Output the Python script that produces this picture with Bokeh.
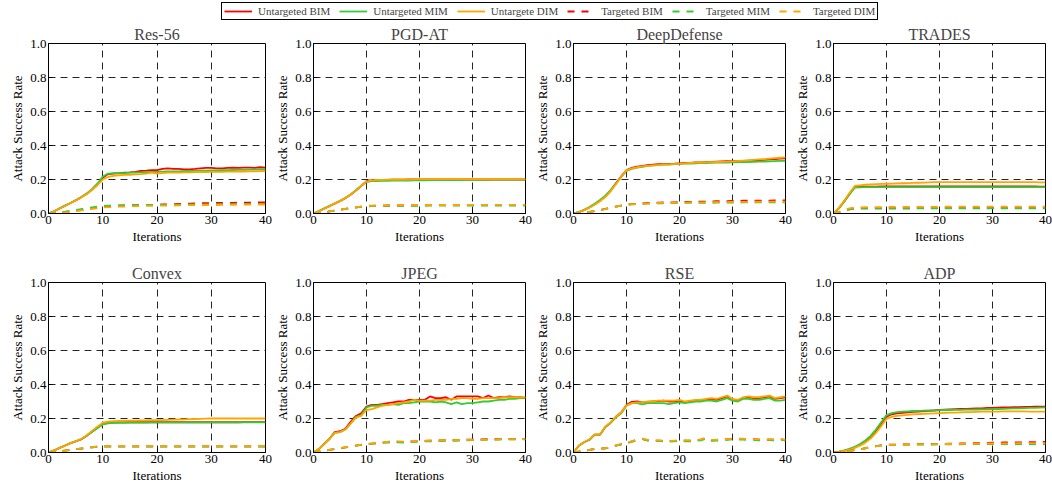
from bokeh.plotting import figure
from bokeh.layouts import column, row
from bokeh.models import Range1d, Legend, LegendItem, PrintfTickFormatter
from bokeh.embed import file_html
from bokeh.resources import INLINE

ITER = list(range(41))
X_TICKS = [0, 10, 20, 30, 40]
Y_TICKS = [0.0, 0.2, 0.4, 0.6, 0.8, 1.0]
SERIES_LABELS = ["Untargeted BIM", "Untargeted MIM", "Untargete DIM",
                 "Targeted BIM", "Targeted MIM", "Targeted DIM"]
PANELS = ["Res-56", "PGD-AT", "DeepDefense", "TRADES",
          "Convex", "JPEG", "RSE", "ADP"]

# ---------------- Res-56 ----------------
RES56_U_BIM = [0, 0.012, 0.028, 0.045, 0.06, 0.077, 0.095, 0.115, 0.14, 0.17, 0.21, 0.232, 0.235, 0.237, 0.24, 0.242, 0.245, 0.25, 0.252, 0.255, 0.255, 0.262, 0.265, 0.263, 0.262, 0.26, 0.26, 0.262, 0.265, 0.268, 0.268, 0.266, 0.265, 0.268, 0.27, 0.268, 0.27, 0.27, 0.268, 0.272, 0.27]
RES56_U_MIM = [0, 0.013, 0.03, 0.047, 0.062, 0.078, 0.096, 0.117, 0.143, 0.175, 0.218, 0.235, 0.237, 0.238, 0.238, 0.24, 0.24, 0.242, 0.243, 0.244, 0.245, 0.246, 0.247, 0.248, 0.248, 0.25, 0.25, 0.251, 0.252, 0.252, 0.253, 0.254, 0.255, 0.255, 0.256, 0.257, 0.257, 0.258, 0.258, 0.259, 0.26]
RES56_U_DIM = [0, 0.012, 0.028, 0.044, 0.06, 0.076, 0.094, 0.113, 0.138, 0.165, 0.2, 0.215, 0.222, 0.225, 0.227, 0.228, 0.23, 0.232, 0.235, 0.24, 0.235, 0.238, 0.24, 0.24, 0.24, 0.242, 0.242, 0.243, 0.244, 0.244, 0.245, 0.245, 0.245, 0.246, 0.246, 0.247, 0.247, 0.248, 0.248, 0.249, 0.25]
RES56_T_BIM = [0, 0.002, 0.005, 0.008, 0.012, 0.016, 0.02, 0.025, 0.03, 0.035, 0.04, 0.043, 0.045, 0.046, 0.047, 0.048, 0.049, 0.05, 0.05, 0.051, 0.052, 0.053, 0.054, 0.055, 0.056, 0.057, 0.058, 0.059, 0.06, 0.061, 0.062, 0.062, 0.063, 0.063, 0.063, 0.064, 0.064, 0.064, 0.065, 0.065, 0.065]
RES56_T_MIM = [0, 0.003, 0.007, 0.011, 0.016, 0.021, 0.026, 0.031, 0.036, 0.041, 0.045, 0.046, 0.047, 0.048, 0.048, 0.049, 0.049, 0.05, 0.05, 0.05, 0.05, 0.051, 0.051, 0.052, 0.052, 0.052, 0.053, 0.053, 0.053, 0.054, 0.054, 0.054, 0.055, 0.055, 0.055, 0.055, 0.056, 0.056, 0.056, 0.056, 0.056]
RES56_T_DIM = [0, 0.002, 0.004, 0.007, 0.01, 0.014, 0.018, 0.022, 0.027, 0.031, 0.035, 0.037, 0.039, 0.04, 0.041, 0.042, 0.043, 0.044, 0.045, 0.045, 0.046, 0.046, 0.047, 0.047, 0.048, 0.048, 0.049, 0.049, 0.05, 0.05, 0.05, 0.05, 0.051, 0.051, 0.051, 0.052, 0.052, 0.052, 0.052, 0.053, 0.053]

# ---------------- PGD-AT ----------------
PGDAT_U_BIM = [0, 0.013, 0.028, 0.043, 0.058, 0.073, 0.09, 0.11, 0.135, 0.162, 0.19, 0.197, 0.198, 0.198, 0.198, 0.199, 0.199, 0.199, 0.2, 0.2, 0.2, 0.2, 0.2, 0.2, 0.2, 0.2, 0.2, 0.2, 0.2, 0.2, 0.2, 0.2, 0.2, 0.2, 0.2, 0.2, 0.2, 0.2, 0.2, 0.2, 0.2]
PGDAT_U_MIM = [0, 0.014, 0.03, 0.045, 0.06, 0.075, 0.092, 0.112, 0.137, 0.163, 0.185, 0.19, 0.191, 0.192, 0.192, 0.193, 0.193, 0.194, 0.194, 0.195, 0.195, 0.195, 0.196, 0.196, 0.196, 0.197, 0.197, 0.197, 0.197, 0.198, 0.198, 0.198, 0.198, 0.198, 0.199, 0.199, 0.199, 0.199, 0.199, 0.2, 0.2]
PGDAT_U_DIM = [0, 0.013, 0.028, 0.043, 0.058, 0.074, 0.091, 0.111, 0.136, 0.163, 0.188, 0.195, 0.197, 0.198, 0.199, 0.2, 0.2, 0.2, 0.201, 0.201, 0.202, 0.202, 0.202, 0.202, 0.202, 0.202, 0.202, 0.202, 0.202, 0.202, 0.202, 0.202, 0.202, 0.202, 0.202, 0.202, 0.202, 0.202, 0.202, 0.202, 0.202]
PGDAT_T_BIM = [0, 0.003, 0.007, 0.012, 0.017, 0.022, 0.027, 0.032, 0.036, 0.04, 0.044, 0.045, 0.046, 0.046, 0.047, 0.047, 0.047, 0.048, 0.048, 0.048, 0.048, 0.049, 0.049, 0.049, 0.049, 0.049, 0.05, 0.05, 0.05, 0.05, 0.05, 0.05, 0.05, 0.05, 0.05, 0.05, 0.05, 0.05, 0.05, 0.05, 0.05]
PGDAT_T_MIM = [0, 0.003, 0.007, 0.012, 0.017, 0.022, 0.027, 0.031, 0.035, 0.039, 0.042, 0.043, 0.044, 0.044, 0.044, 0.045, 0.045, 0.045, 0.045, 0.045, 0.045, 0.045, 0.046, 0.046, 0.046, 0.046, 0.046, 0.046, 0.046, 0.046, 0.046, 0.046, 0.046, 0.046, 0.046, 0.046, 0.046, 0.046, 0.046, 0.046, 0.046]
PGDAT_T_DIM = [0, 0.003, 0.007, 0.012, 0.017, 0.022, 0.027, 0.032, 0.037, 0.041, 0.045, 0.046, 0.047, 0.047, 0.048, 0.048, 0.048, 0.049, 0.049, 0.049, 0.049, 0.05, 0.05, 0.05, 0.05, 0.05, 0.05, 0.05, 0.05, 0.05, 0.051, 0.051, 0.051, 0.051, 0.051, 0.051, 0.051, 0.051, 0.051, 0.051, 0.051]

# ---------------- DeepDefense ----------------
DD_U_BIM = [0, 0.008, 0.02, 0.035, 0.054, 0.075, 0.1, 0.135, 0.178, 0.218, 0.255, 0.268, 0.275, 0.28, 0.285, 0.288, 0.29, 0.291, 0.292, 0.293, 0.295, 0.297, 0.298, 0.3, 0.301, 0.302, 0.303, 0.305, 0.307, 0.308, 0.308, 0.309, 0.31, 0.311, 0.312, 0.313, 0.315, 0.318, 0.32, 0.323, 0.325]
DD_U_MIM = [0, 0.009, 0.022, 0.038, 0.058, 0.08, 0.105, 0.138, 0.175, 0.215, 0.25, 0.262, 0.27, 0.275, 0.28, 0.283, 0.285, 0.287, 0.288, 0.29, 0.292, 0.293, 0.294, 0.295, 0.296, 0.297, 0.298, 0.299, 0.3, 0.3, 0.301, 0.302, 0.302, 0.303, 0.304, 0.305, 0.306, 0.307, 0.308, 0.309, 0.31]
DD_U_DIM = [0, 0.008, 0.02, 0.034, 0.052, 0.072, 0.097, 0.13, 0.172, 0.215, 0.255, 0.265, 0.272, 0.277, 0.28, 0.283, 0.285, 0.287, 0.289, 0.291, 0.293, 0.295, 0.297, 0.299, 0.3, 0.301, 0.302, 0.303, 0.304, 0.305, 0.307, 0.309, 0.311, 0.313, 0.315, 0.318, 0.32, 0.323, 0.326, 0.328, 0.33]
DD_T_BIM = [0, 0.002, 0.005, 0.009, 0.014, 0.02, 0.027, 0.034, 0.041, 0.047, 0.052, 0.055, 0.058, 0.06, 0.062, 0.063, 0.064, 0.065, 0.066, 0.066, 0.067, 0.068, 0.068, 0.069, 0.07, 0.07, 0.071, 0.072, 0.072, 0.073, 0.074, 0.074, 0.075, 0.075, 0.075, 0.076, 0.076, 0.076, 0.077, 0.077, 0.077]
DD_T_MIM = [0, 0.002, 0.005, 0.009, 0.014, 0.02, 0.027, 0.034, 0.041, 0.047, 0.052, 0.054, 0.056, 0.057, 0.058, 0.059, 0.06, 0.06, 0.061, 0.061, 0.062, 0.062, 0.062, 0.063, 0.063, 0.063, 0.063, 0.064, 0.064, 0.064, 0.064, 0.064, 0.065, 0.065, 0.065, 0.065, 0.065, 0.065, 0.065, 0.065, 0.065]
DD_T_DIM = [0, 0.002, 0.005, 0.009, 0.014, 0.02, 0.026, 0.033, 0.04, 0.046, 0.051, 0.054, 0.056, 0.058, 0.06, 0.061, 0.062, 0.062, 0.063, 0.063, 0.064, 0.064, 0.065, 0.065, 0.066, 0.066, 0.066, 0.067, 0.067, 0.067, 0.068, 0.068, 0.068, 0.069, 0.069, 0.069, 0.07, 0.07, 0.07, 0.07, 0.07]

# ---------------- TRADES ----------------
TR_U_BIM = [0, 0.03, 0.07, 0.113, 0.155, 0.157, 0.158, 0.158, 0.158, 0.159, 0.159, 0.159, 0.16, 0.16, 0.16, 0.16, 0.16, 0.16, 0.16, 0.16, 0.16, 0.16, 0.16, 0.16, 0.16, 0.16, 0.16, 0.16, 0.16, 0.16, 0.16, 0.16, 0.16, 0.16, 0.16, 0.16, 0.159, 0.159, 0.159, 0.158, 0.158]
TR_U_MIM = [0, 0.03, 0.07, 0.112, 0.152, 0.154, 0.155, 0.155, 0.155, 0.155, 0.155, 0.155, 0.155, 0.155, 0.155, 0.155, 0.155, 0.155, 0.155, 0.155, 0.155, 0.155, 0.155, 0.155, 0.155, 0.155, 0.155, 0.155, 0.155, 0.155, 0.155, 0.155, 0.155, 0.155, 0.155, 0.155, 0.155, 0.155, 0.155, 0.155, 0.155]
TR_U_DIM = [0, 0.032, 0.075, 0.12, 0.162, 0.166, 0.169, 0.171, 0.173, 0.174, 0.175, 0.176, 0.177, 0.178, 0.179, 0.18, 0.181, 0.182, 0.183, 0.184, 0.185, 0.185, 0.185, 0.185, 0.185, 0.185, 0.185, 0.185, 0.185, 0.185, 0.185, 0.185, 0.185, 0.185, 0.185, 0.185, 0.185, 0.184, 0.184, 0.183, 0.183]
TR_T_BIM = [0, 0.008, 0.017, 0.025, 0.03, 0.031, 0.031, 0.031, 0.031, 0.031, 0.031, 0.031, 0.031, 0.031, 0.031, 0.031, 0.032, 0.032, 0.032, 0.032, 0.032, 0.032, 0.032, 0.032, 0.032, 0.032, 0.032, 0.032, 0.032, 0.032, 0.032, 0.032, 0.032, 0.032, 0.032, 0.032, 0.032, 0.032, 0.032, 0.032, 0.032]
TR_T_MIM = [0, 0.008, 0.016, 0.024, 0.029, 0.03, 0.03, 0.03, 0.03, 0.03, 0.03, 0.03, 0.03, 0.03, 0.03, 0.03, 0.03, 0.03, 0.03, 0.03, 0.03, 0.03, 0.03, 0.03, 0.03, 0.03, 0.03, 0.03, 0.03, 0.03, 0.03, 0.03, 0.03, 0.03, 0.03, 0.03, 0.03, 0.03, 0.03, 0.03, 0.03]
TR_T_DIM = [0, 0.01, 0.02, 0.03, 0.035, 0.036, 0.037, 0.038, 0.038, 0.038, 0.039, 0.039, 0.039, 0.039, 0.039, 0.039, 0.039, 0.039, 0.039, 0.039, 0.04, 0.04, 0.04, 0.04, 0.04, 0.04, 0.04, 0.04, 0.04, 0.04, 0.04, 0.04, 0.04, 0.04, 0.04, 0.04, 0.04, 0.04, 0.04, 0.04, 0.04]

# ---------------- Convex ----------------
CV_U_BIM = [0, 0.012, 0.026, 0.04, 0.054, 0.065, 0.077, 0.097, 0.122, 0.145, 0.168, 0.175, 0.176, 0.177, 0.177, 0.178, 0.178, 0.178, 0.178, 0.178, 0.178, 0.178, 0.178, 0.178, 0.178, 0.178, 0.178, 0.178, 0.178, 0.178, 0.178, 0.178, 0.178, 0.178, 0.178, 0.178, 0.179, 0.179, 0.179, 0.179, 0.179]
CV_U_MIM = [0, 0.012, 0.027, 0.041, 0.055, 0.066, 0.078, 0.098, 0.12, 0.142, 0.165, 0.172, 0.174, 0.175, 0.175, 0.176, 0.176, 0.176, 0.176, 0.177, 0.177, 0.177, 0.177, 0.177, 0.177, 0.177, 0.177, 0.177, 0.177, 0.177, 0.177, 0.177, 0.177, 0.177, 0.177, 0.177, 0.177, 0.177, 0.177, 0.177, 0.177]
CV_U_DIM = [0, 0.012, 0.026, 0.04, 0.054, 0.066, 0.08, 0.1, 0.127, 0.152, 0.175, 0.182, 0.185, 0.186, 0.187, 0.188, 0.188, 0.189, 0.189, 0.19, 0.19, 0.191, 0.192, 0.193, 0.194, 0.195, 0.196, 0.197, 0.198, 0.199, 0.2, 0.2, 0.2, 0.2, 0.2, 0.2, 0.2, 0.2, 0.2, 0.2, 0.2]
CV_T_BIM = [0, 0.003, 0.007, 0.011, 0.015, 0.019, 0.023, 0.027, 0.031, 0.034, 0.036, 0.036, 0.036, 0.036, 0.036, 0.036, 0.036, 0.036, 0.036, 0.036, 0.036, 0.036, 0.036, 0.036, 0.036, 0.036, 0.036, 0.036, 0.036, 0.036, 0.036, 0.036, 0.036, 0.036, 0.036, 0.036, 0.036, 0.036, 0.036, 0.036, 0.036]
CV_T_MIM = [0, 0.003, 0.007, 0.011, 0.015, 0.019, 0.023, 0.027, 0.031, 0.034, 0.035, 0.035, 0.035, 0.035, 0.035, 0.035, 0.035, 0.035, 0.035, 0.035, 0.035, 0.035, 0.035, 0.035, 0.035, 0.035, 0.035, 0.035, 0.035, 0.035, 0.035, 0.035, 0.035, 0.035, 0.035, 0.035, 0.035, 0.035, 0.035, 0.035, 0.035]
CV_T_DIM = [0, 0.003, 0.007, 0.011, 0.015, 0.02, 0.024, 0.028, 0.032, 0.035, 0.037, 0.038, 0.038, 0.038, 0.038, 0.038, 0.038, 0.038, 0.038, 0.038, 0.038, 0.038, 0.038, 0.038, 0.038, 0.038, 0.038, 0.038, 0.038, 0.038, 0.038, 0.038, 0.038, 0.038, 0.038, 0.038, 0.038, 0.038, 0.038, 0.038, 0.038]

# ---------------- JPEG ----------------
JP_U_BIM = [0, 0.02, 0.05, 0.08, 0.12, 0.125, 0.14, 0.18, 0.215, 0.23, 0.27, 0.28, 0.28, 0.285, 0.29, 0.295, 0.3, 0.3, 0.31, 0.31, 0.31, 0.31, 0.33, 0.32, 0.32, 0.325, 0.31, 0.33, 0.33, 0.33, 0.33, 0.33, 0.32, 0.335, 0.32, 0.325, 0.325, 0.33, 0.325, 0.325, 0.32]
JP_U_MIM = [0, 0.02, 0.05, 0.08, 0.115, 0.12, 0.135, 0.17, 0.21, 0.22, 0.265, 0.275, 0.275, 0.28, 0.28, 0.285, 0.28, 0.29, 0.29, 0.295, 0.3, 0.3, 0.3, 0.295, 0.3, 0.295, 0.285, 0.295, 0.285, 0.29, 0.29, 0.295, 0.3, 0.3, 0.305, 0.31, 0.31, 0.315, 0.315, 0.32, 0.32]
JP_U_DIM = [0, 0.02, 0.048, 0.078, 0.115, 0.12, 0.135, 0.17, 0.205, 0.215, 0.25, 0.255, 0.265, 0.275, 0.28, 0.285, 0.29, 0.295, 0.3, 0.31, 0.305, 0.305, 0.305, 0.31, 0.31, 0.31, 0.315, 0.315, 0.32, 0.32, 0.315, 0.315, 0.32, 0.32, 0.32, 0.32, 0.325, 0.325, 0.325, 0.325, 0.325]
JP_T_BIM = [0, 0.005, 0.01, 0.015, 0.02, 0.025, 0.03, 0.034, 0.04, 0.045, 0.05, 0.052, 0.055, 0.058, 0.062, 0.065, 0.063, 0.062, 0.064, 0.066, 0.068, 0.068, 0.07, 0.07, 0.071, 0.072, 0.072, 0.073, 0.074, 0.075, 0.075, 0.076, 0.077, 0.078, 0.078, 0.078, 0.079, 0.079, 0.08, 0.08, 0.08]
JP_T_MIM = [0, 0.005, 0.01, 0.015, 0.02, 0.025, 0.03, 0.035, 0.04, 0.045, 0.05, 0.052, 0.054, 0.056, 0.058, 0.06, 0.06, 0.058, 0.06, 0.062, 0.064, 0.065, 0.066, 0.066, 0.067, 0.068, 0.068, 0.069, 0.07, 0.072, 0.073, 0.074, 0.075, 0.076, 0.076, 0.077, 0.077, 0.078, 0.078, 0.078, 0.078]
JP_T_DIM = [0, 0.005, 0.01, 0.016, 0.021, 0.026, 0.031, 0.036, 0.041, 0.046, 0.051, 0.054, 0.057, 0.06, 0.063, 0.066, 0.065, 0.064, 0.065, 0.067, 0.068, 0.069, 0.07, 0.07, 0.071, 0.072, 0.072, 0.073, 0.074, 0.074, 0.075, 0.075, 0.076, 0.076, 0.076, 0.077, 0.077, 0.077, 0.078, 0.078, 0.079]

# ---------------- RSE ----------------
RSE_U_BIM = [0, 0.04, 0.06, 0.075, 0.105, 0.105, 0.15, 0.175, 0.21, 0.235, 0.28, 0.298, 0.3, 0.295, 0.298, 0.3, 0.302, 0.305, 0.3, 0.3, 0.305, 0.295, 0.3, 0.305, 0.305, 0.31, 0.315, 0.31, 0.32, 0.33, 0.31, 0.305, 0.32, 0.325, 0.32, 0.32, 0.325, 0.33, 0.315, 0.32, 0.325]
RSE_U_MIM = [0, 0.04, 0.06, 0.075, 0.105, 0.105, 0.15, 0.175, 0.205, 0.23, 0.275, 0.29, 0.29, 0.283, 0.29, 0.292, 0.29, 0.29, 0.285, 0.29, 0.295, 0.29, 0.295, 0.3, 0.3, 0.305, 0.305, 0.3, 0.31, 0.32, 0.305, 0.3, 0.315, 0.315, 0.31, 0.31, 0.315, 0.32, 0.305, 0.305, 0.31]
RSE_U_DIM = [0, 0.04, 0.062, 0.078, 0.105, 0.108, 0.152, 0.178, 0.21, 0.235, 0.278, 0.29, 0.295, 0.295, 0.3, 0.3, 0.305, 0.305, 0.305, 0.305, 0.31, 0.3, 0.305, 0.31, 0.31, 0.315, 0.32, 0.315, 0.325, 0.335, 0.315, 0.31, 0.325, 0.33, 0.325, 0.325, 0.33, 0.335, 0.32, 0.325, 0.33]
RSE_T_BIM = [0, 0.005, 0.01, 0.015, 0.02, 0.022, 0.025, 0.03, 0.04, 0.048, 0.055, 0.065, 0.075, 0.08, 0.072, 0.07, 0.07, 0.068, 0.066, 0.068, 0.07, 0.07, 0.07, 0.072, 0.075, 0.085, 0.072, 0.074, 0.076, 0.078, 0.08, 0.08, 0.08, 0.078, 0.078, 0.075, 0.075, 0.076, 0.075, 0.08, 0.072]
RSE_T_MIM = [0, 0.005, 0.01, 0.015, 0.02, 0.022, 0.025, 0.03, 0.04, 0.048, 0.055, 0.063, 0.072, 0.078, 0.07, 0.068, 0.068, 0.066, 0.064, 0.066, 0.068, 0.066, 0.065, 0.068, 0.072, 0.08, 0.068, 0.07, 0.072, 0.075, 0.078, 0.076, 0.076, 0.074, 0.074, 0.072, 0.072, 0.073, 0.072, 0.077, 0.07]
RSE_T_DIM = [0, 0.005, 0.01, 0.015, 0.02, 0.023, 0.026, 0.032, 0.042, 0.05, 0.057, 0.066, 0.076, 0.082, 0.074, 0.072, 0.071, 0.069, 0.068, 0.07, 0.072, 0.071, 0.071, 0.073, 0.077, 0.087, 0.074, 0.075, 0.077, 0.079, 0.081, 0.081, 0.081, 0.079, 0.079, 0.077, 0.077, 0.078, 0.077, 0.081, 0.074]

# ---------------- ADP ----------------
ADP_U_BIM = [0, 0.004, 0.01, 0.018, 0.03, 0.045, 0.065, 0.09, 0.125, 0.165, 0.21, 0.225, 0.23, 0.233, 0.236, 0.239, 0.241, 0.243, 0.245, 0.247, 0.25, 0.252, 0.254, 0.255, 0.256, 0.257, 0.258, 0.259, 0.26, 0.262, 0.263, 0.264, 0.265, 0.266, 0.267, 0.267, 0.268, 0.268, 0.269, 0.27, 0.27]
ADP_U_MIM = [0, 0.005, 0.012, 0.021, 0.034, 0.05, 0.071, 0.098, 0.135, 0.178, 0.22, 0.232, 0.237, 0.24, 0.242, 0.244, 0.245, 0.246, 0.247, 0.248, 0.249, 0.25, 0.25, 0.251, 0.251, 0.252, 0.252, 0.253, 0.254, 0.254, 0.255, 0.256, 0.257, 0.258, 0.259, 0.26, 0.261, 0.262, 0.263, 0.264, 0.265]
ADP_U_DIM = [0, 0.004, 0.009, 0.016, 0.027, 0.04, 0.058, 0.082, 0.115, 0.155, 0.198, 0.21, 0.215, 0.218, 0.221, 0.224, 0.226, 0.228, 0.229, 0.23, 0.232, 0.233, 0.234, 0.235, 0.236, 0.237, 0.238, 0.239, 0.24, 0.24, 0.241, 0.241, 0.242, 0.242, 0.242, 0.242, 0.242, 0.241, 0.241, 0.24, 0.24]
ADP_T_BIM = [0, 0.002, 0.005, 0.009, 0.014, 0.019, 0.025, 0.031, 0.037, 0.042, 0.045, 0.046, 0.047, 0.047, 0.048, 0.048, 0.049, 0.049, 0.05, 0.05, 0.05, 0.051, 0.052, 0.052, 0.053, 0.054, 0.054, 0.055, 0.056, 0.057, 0.058, 0.058, 0.059, 0.059, 0.06, 0.06, 0.06, 0.061, 0.061, 0.062, 0.062]
ADP_T_MIM = [0, 0.002, 0.005, 0.009, 0.014, 0.019, 0.025, 0.031, 0.037, 0.042, 0.044, 0.045, 0.045, 0.046, 0.046, 0.046, 0.047, 0.047, 0.047, 0.047, 0.048, 0.048, 0.048, 0.048, 0.048, 0.049, 0.049, 0.049, 0.049, 0.049, 0.05, 0.05, 0.05, 0.05, 0.05, 0.05, 0.05, 0.05, 0.05, 0.05, 0.05]
ADP_T_DIM = [0, 0.002, 0.005, 0.009, 0.014, 0.019, 0.025, 0.031, 0.036, 0.041, 0.044, 0.045, 0.046, 0.046, 0.047, 0.047, 0.048, 0.048, 0.048, 0.049, 0.049, 0.05, 0.05, 0.05, 0.051, 0.051, 0.052, 0.052, 0.052, 0.053, 0.053, 0.053, 0.054, 0.054, 0.054, 0.055, 0.055, 0.055, 0.055, 0.055, 0.055]

PANEL_DATA = [
    [RES56_U_BIM, RES56_U_MIM, RES56_U_DIM, RES56_T_BIM, RES56_T_MIM, RES56_T_DIM],
    [PGDAT_U_BIM, PGDAT_U_MIM, PGDAT_U_DIM, PGDAT_T_BIM, PGDAT_T_MIM, PGDAT_T_DIM],
    [DD_U_BIM, DD_U_MIM, DD_U_DIM, DD_T_BIM, DD_T_MIM, DD_T_DIM],
    [TR_U_BIM, TR_U_MIM, TR_U_DIM, TR_T_BIM, TR_T_MIM, TR_T_DIM],
    [CV_U_BIM, CV_U_MIM, CV_U_DIM, CV_T_BIM, CV_T_MIM, CV_T_DIM],
    [JP_U_BIM, JP_U_MIM, JP_U_DIM, JP_T_BIM, JP_T_MIM, JP_T_DIM],
    [RSE_U_BIM, RSE_U_MIM, RSE_U_DIM, RSE_T_BIM, RSE_T_MIM, RSE_T_DIM],
    [ADP_U_BIM, ADP_U_MIM, ADP_U_DIM, ADP_T_BIM, ADP_T_MIM, ADP_T_DIM],
]

COLORS = ["#ff0000", "#33cc33", "#ffa500", "#ff0000", "#33cc33", "#ffa500"]
DASHES = ["solid", "solid", "solid", "7 7", "7 7", "7 7"]
FONT = "'Liberation Serif', 'Times New Roman', serif"


def make_panel(idx, width, height, left, top, bottom):
    p = figure(width=width, height=height, x_range=Range1d(0, 40), y_range=Range1d(0, 1),
               output_backend="svg", toolbar_location=None, title=PANELS[idx],
               min_border_left=left, min_border_right=7, min_border_top=top,
               min_border_bottom=bottom)
    p.title.align = "center"
    p.title.text_font = FONT
    p.title.text_font_size = "16px"
    p.title.text_font_style = "normal"
    p.title.standoff = 1
    p.xaxis.ticker = X_TICKS
    p.yaxis.ticker = Y_TICKS
    p.yaxis.formatter = PrintfTickFormatter(format="%.1f")
    p.xaxis.axis_label = "Iterations"
    p.yaxis.axis_label = "Attack Success Rate"
    for ax in (p.xaxis, p.yaxis):
        ax.axis_label_text_font = FONT
        ax.axis_label_text_font_size = "13px"
        ax.axis_label_text_font_style = "normal"
        ax.major_label_text_font = FONT
        ax.major_label_text_font_size = "13px"
        ax.major_label_text_color = "black"
        ax.axis_label_text_color = "black"
        ax.axis_line_color = "black"
        ax.major_tick_in = 4
        ax.major_tick_out = 0
        ax.major_tick_line_color = "black"
        ax.minor_tick_line_color = None
        ax.major_label_standoff = 2
        ax.axis_label_standoff = 2
    for g in (p.xgrid, p.ygrid):
        g.grid_line_color = "black"
        g.grid_line_dash = "7 5"
        g.grid_line_alpha = 0.85
        g.grid_line_width = 1
    p.outline_line_color = "black"
    p.outline_line_alpha = 1
    p.outline_line_width = 1
    for k in range(6):
        p.line(ITER, PANEL_DATA[idx][k], line_color=COLORS[k], line_width=1.8,
               line_dash=DASHES[k])
    return p


LEGEND_H = 22
ROW1_H = 228
ROW2_H = 243
WIDTHS = [272, 260, 260, 260]
LEFTS = [48, 36, 36, 36]

row1 = row(*[make_panel(i, WIDTHS[i], ROW1_H, LEFTS[i], 21, 37) for i in range(4)])
row2 = row(*[make_panel(4 + i, WIDTHS[i], ROW2_H, LEFTS[i], 32, 41) for i in range(4)])

# legend strip
lf = figure(width=1052, height=LEGEND_H, x_range=Range1d(0, 1), y_range=Range1d(0, 1),
            output_backend="svg", toolbar_location=None,
            min_border_left=0, min_border_right=0, min_border_top=0, min_border_bottom=0,
            x_axis_location=None, y_axis_location=None)
lf.grid.visible = False
lf.outline_line_color = None
items = []
for k in range(6):
    r = lf.line([-5, -4], [-5, -4], line_color=COLORS[k], line_width=1.8, line_dash=DASHES[k])
    items.append(LegendItem(label=SERIES_LABELS[k], renderers=[r]))
leg = Legend(items=items, orientation="horizontal", location=(221, 2))
leg.label_text_font = FONT
leg.label_text_font_size = "11px"
leg.label_height = 12
leg.glyph_height = 12
leg.glyph_width = 28
leg.label_standoff = 6
leg.spacing = 9
leg.padding = 2
leg.margin = 0
leg.border_line_color = "black"
leg.border_line_width = 1
leg.border_line_alpha = 1
leg.background_fill_alpha = 1
lf.add_layout(leg, "center")

layout = column(lf, row1, row2)
open("out.html", "w").write(file_html(layout, INLINE))
